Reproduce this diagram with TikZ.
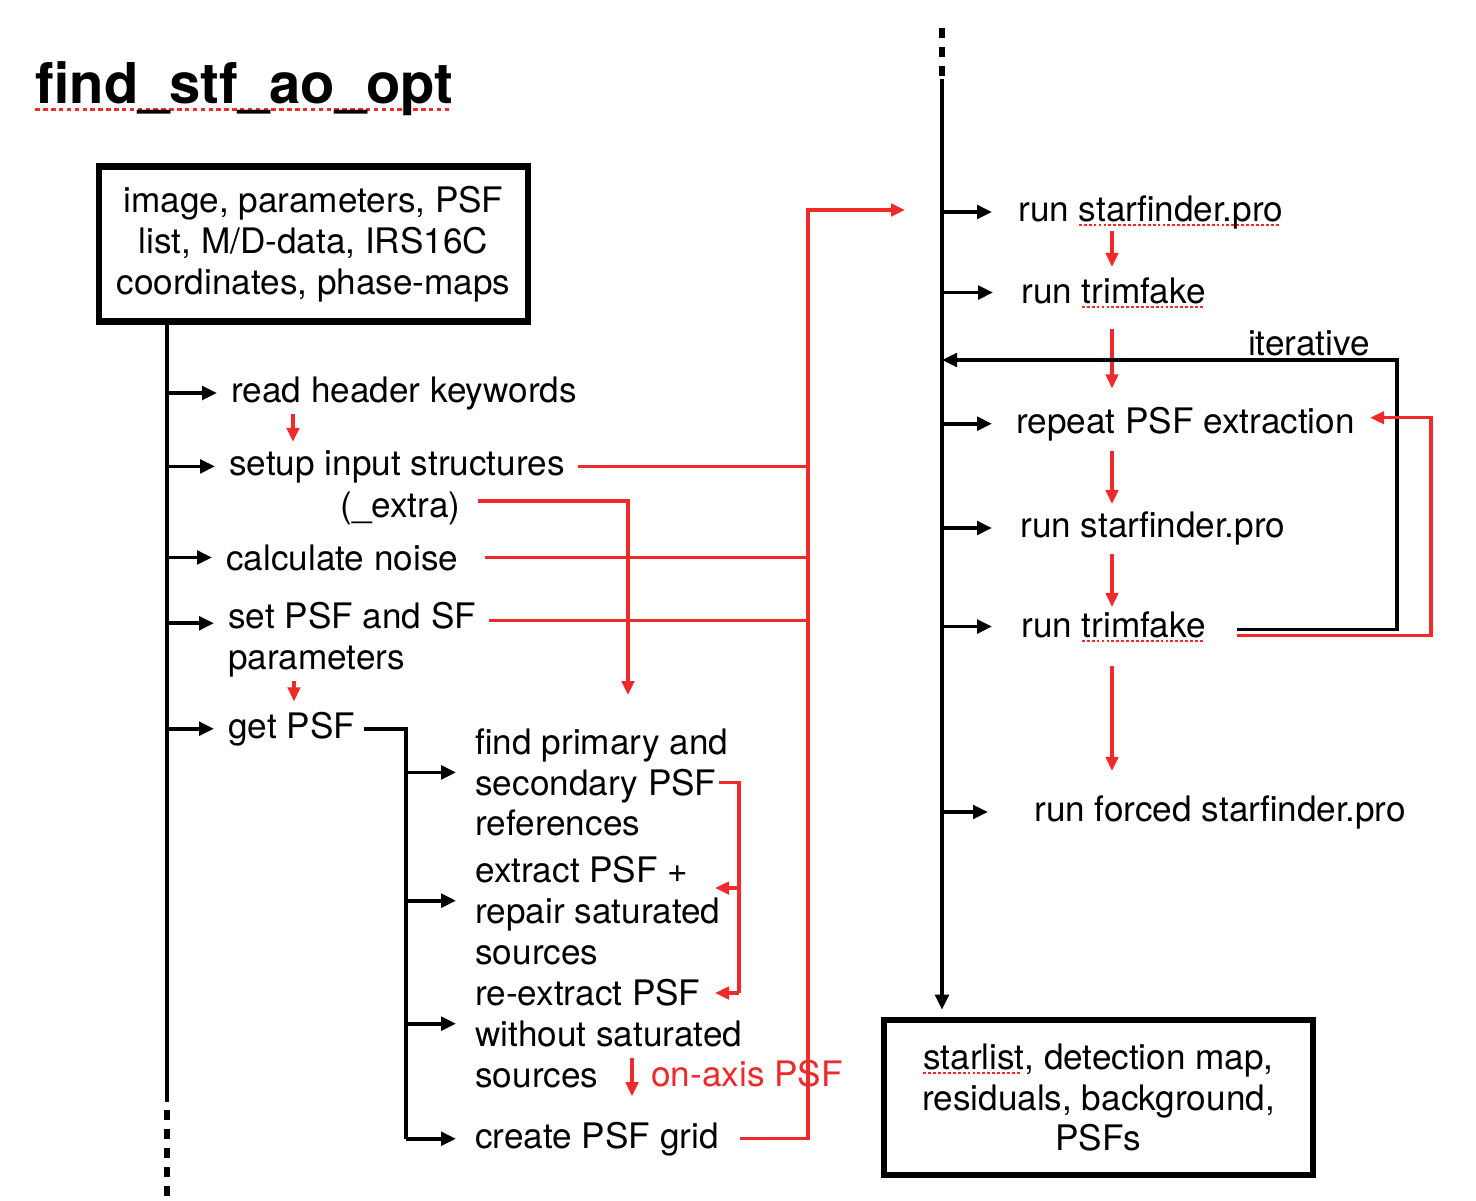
\documentclass[tikz,border=0pt]{standalone}
\usepackage{fontspec}
\setmainfont{TeX Gyre Heros}
\usetikzlibrary{arrows.meta,
							calc,
							positioning,
							shadows}
\definecolor{kred}{RGB}{238,42,42}
\newsavebox\spellbox
\newcommand\spellmark[1]{\leavevmode\sbox\spellbox{#1}%
	\rlap{\raisebox{-0.26ex}{\color{kred}\leaders\hbox{\rule{0.08em}{0.09ex}\kern0.06em}\hskip\wd\spellbox}}%
	\usebox\spellbox}

\begin{document}
\begin{tikzpicture}[x=0.02cm, y=-0.02cm,
	font=\fontsize{20}{23.3}\selectfont,
			txt/.style = {inner sep=0pt, anchor=base west},
		 mtxt/.style = {inner sep=0pt, anchor=north west, align=left},
		iobox/.style = {draw, line width=3.8pt, minimum width=8.58cm, minimum height=3.1cm,
									 align=center, fill=white,
									 drop shadow={opacity=0.25, shadow xshift=0.03cm, shadow yshift=-0.06cm}},
		trunk/.style = {line width=2.1pt},
		 dots/.style = {line width=2.9pt, dash pattern=on 0.2cm off 0.18cm},
		 tick/.style = {line width=2.1pt, -{Triangle[length=0.3cm,width=0.27cm]}},
		rline/.style = {kred, line width=1.8pt},
		 rarr/.style = {rline, -{Triangle[length=0.28cm,width=0.25cm]}}]
\useasboundingbox (0,0) rectangle (1476,1200);

\node [txt, font=\fontsize{32}{38}\selectfont\bfseries]
						(title) at (35,103)   {\spellmark{find\_stf\_ao\_opt}};
\node [iobox]  (input) at (313.5,244) {image, parameters, PSF\\
																		 list, M/D-data, IRS16C\\
																		 coordinates, phase-maps};
\node [iobox] (output) at (1098.5,1097.5) {\spellmark{starlist}, detection map,\\
																		 residuals, background,\\
																		 PSFs};
%% left column
\node [txt]    (hdr) at (231,402)  {read header keywords};
\node [txt]  (setup) at (229,475)  {setup input structures};
\node [txt]  (extra) at (340,517)  {(\_extra)};
\node [txt]  (noise) at (226,570)  {calculate noise};
\node [mtxt] (sfpar) at (228,602)  {set PSF and SF\\ parameters};
\node [txt] (getpsf) at (228,738)  {get PSF};
%
\node [mtxt]  (find) at (475,728)  {find primary and\\ secondary PSF\\ references};
\node [mtxt]  (extr) at (475,856)  {extract PSF +\\ repair saturated\\ sources};
\node [mtxt]  (reex) at (475,979)  {re-extract PSF\\ without saturated\\ sources};
\node [txt] (create) at (475,1148) {create PSF grid};
\node [txt, text=kred] (onaxis) at (651,1086) {on-axis PSF};
%% right column
\node [txt]    (sf1) at (1018,221) {run \spellmark{starfinder.pro}};
\node [txt]    (tf1) at (1021,303) {run \spellmark{trimfake}};
\node [txt]    (rep) at (1016,433) {repeat PSF extraction};
\node [txt]    (sf2) at (1020,537) {run starfinder.pro};
\node [txt]    (tf2) at (1021,637) {run \spellmark{trimfake}};
\node [txt] (forced) at (1034,821) {run forced starfinder.pro};
%%
\coordinate (lsolid) at (167,1102);
\coordinate   (gbus) at (406,0);
\coordinate   (rbus) at (808,210);
\coordinate    (rin) at (905,210);       % <-- red bus enters right column
\coordinate  (xdrop) at (628,695);
\coordinate   (brk1) at (739,888);
\coordinate   (brk2) at (739,993);
\coordinate   (tip1) at (715,888);
\coordinate   (tip2) at (715,993);
\coordinate  (rtop) at (942,28);
\coordinate (rsolid) at (942,79);
\coordinate    (rdx) at (1112,0);
\coordinate   (loop) at (1397,360);
\coordinate  (rloop) at (1431,0);
%% trunks
\draw [trunk] (input.south -| lsolid) -- (lsolid);
\draw [dots]  ([yshift=-0.16cm]lsolid) -- ++(0,-1.8cm);
\draw [dots]  (rtop) -- ([yshift=0.04cm]rsolid);
\draw [trunk, -{Triangle[length=0.3cm,width=0.27cm]}, shorten >=0.14cm]
			(rsolid) -- (output.north -| rsolid);
%% left arrows
\foreach \n in {hdr, setup, noise, getpsf}
	\draw [tick, shorten >=0.28cm] (lsolid |- \n) -- (\n.west |- \n);
\draw [tick, shorten >=0.28cm] ([yshift=0.33cm]lsolid |- sfpar.west) -- ([yshift=0.33cm]sfpar.west);
\draw [trunk] ([xshift=0.18cm]getpsf.east) -| (gbus |- create.west);
\foreach \n in {find, extr, reex}
	\draw [tick, shorten >=0.38cm] ([yshift=0.2cm]gbus |- \n.west) -- ([yshift=0.2cm]\n.west);
\draw [tick, shorten >=0.38cm] (gbus |- create.west) -- (create.west);
%% red flow, left
\draw [rarr, shorten <=0.08cm, shorten >=0.16cm]
			([xshift=1.24cm]hdr.south west) -- ([xshift=1.24cm]hdr.south west |- setup.north);
\draw [rarr, shorten <=0.06cm, shorten >=0.2cm]
			([xshift=1.32cm]sfpar.south west) -- ([xshift=1.32cm]sfpar.south west |- getpsf.north);
\draw [rline] ([xshift=0.26cm]setup.east) -- (setup.east -| rbus);
\draw [rline] ([xshift=0.52cm]noise.east) -- (noise.east -| rbus);
\draw [rline] ([xshift=0.26cm,yshift=0.38cm]sfpar.east) -- ([yshift=0.38cm]sfpar.east -| rbus);
\draw [rarr]  ([xshift=0.34cm,yshift=0.14cm]extra.east) -| (xdrop);
\draw [rarr]  ([xshift=0.42cm]create.east) -| (rbus) -- (rin);
\draw [rline] ([xshift=4.88cm]find.west) -| (brk2);
\draw [rarr]  (brk1) -- (tip1);
\draw [rarr]  (brk2) -- (tip2);
\draw [rarr]  ([xshift=-0.38cm,yshift=0.3cm]onaxis.west) -- ([xshift=-0.38cm,yshift=-0.46cm]onaxis.west);
%% right arrows
\foreach \n/\s in {sf1/0.52, tf1/0.56, rep/0.48, sf2/0.56, tf2/0.58, forced/0.92}
	\draw [tick, shorten >=\s cm] (rsolid |- \n) -- (\n.west |- \n);
\foreach \a/\b/\s/\e in {sf1/tf1/0.04/0.2, tf1/rep/0.42/0.36, rep/sf2/0.2/0.14,
												 sf2/tf2/0.18/0.08, tf2/forced/0.48/0.48}
	\draw [rarr, shorten <=\s cm, shorten >=\e cm] (rdx |- \a.south) -- (rdx |- \b.north);
%% loops
\draw [trunk, -{Triangle[length=0.3cm,width=0.27cm]}]
			([xshift=0.62cm,yshift=-0.06cm]tf2.east) -| (loop) -- (loop -| rsolid);
\node [inner sep=0pt, anchor=south east] (iter) at ([xshift=-0.54cm,yshift=0.08cm]loop) {iterative};
\draw [rarr, shorten >=0.3cm]
			([xshift=0.62cm,yshift=-0.18cm]tf2.east) -| ([yshift=0.12cm]rloop |- rep.east)
			-- ([yshift=0.12cm]rep.east);
\end{tikzpicture}
\end{document}
